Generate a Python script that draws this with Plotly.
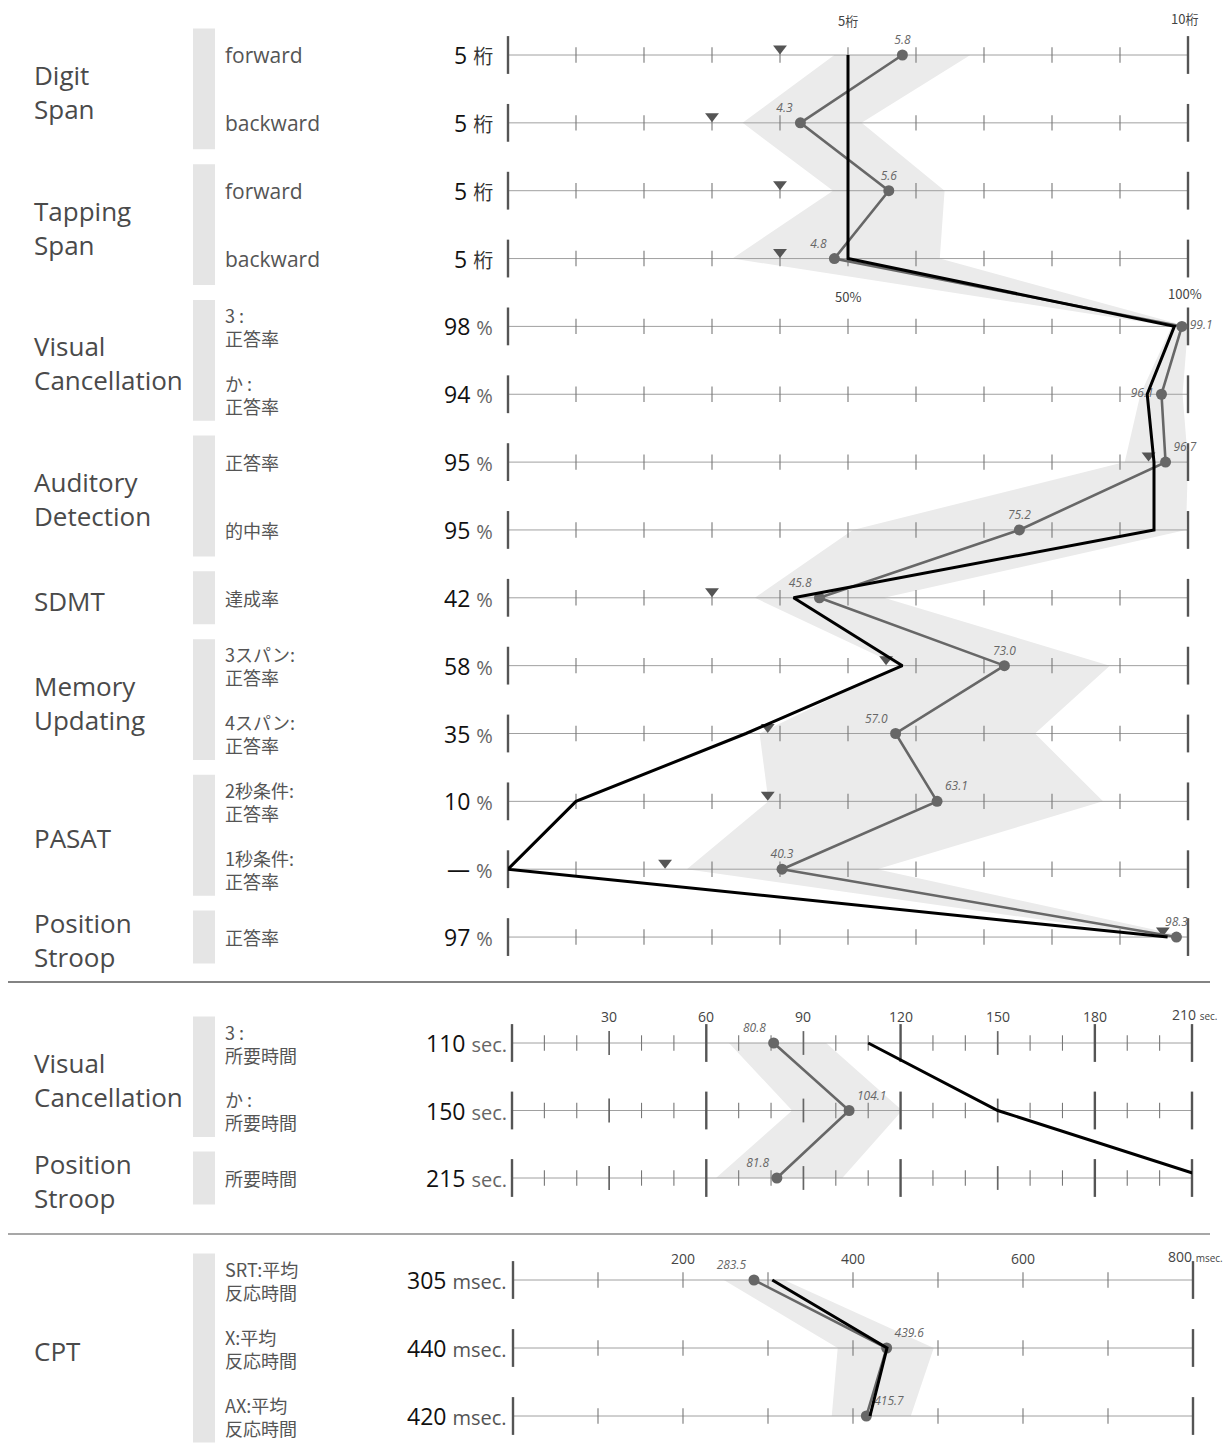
import plotly.graph_objects as go

W, H = 1232, 1454
OFF = 8                      # the page body offsets the figure by 8 px
FW, FH = W - OFF, H - OFF    # figure size


def px(x):
    return (x - OFF) / FW


def py(y):
    return 1 - (y - OFF) / FH


# ---------------- data ----------------
# top panel (spans in digits, others in %)
top_groups = ["Digit\nSpan", "Tapping\nSpan", "Visual\nCancellation", "Auditory\nDetection",
              "SDMT", "Memory\nUpdating", "PASAT", "Position\nStroop"]
top_group_rows = [[0, 1], [2, 3], [4, 5], [6, 7], [8], [9, 10], [11, 12], [13]]
top_items = ["forward", "backward", "forward", "backward",
             "3 :\n正答率", "か :\n正答率", "正答率", "的中率", "達成率",
             "3スパン:\n正答率", "4スパン:\n正答率", "2秒条件:\n正答率", "1秒条件:\n正答率", "正答率"]
top_units = ["桁", "桁", "桁", "桁", "%", "%", "%", "%", "%", "%", "%", "%", "%", "%"]
top_scale = [10, 10, 10, 10, 1, 1, 1, 1, 1, 1, 1, 1, 1, 1]
top_patient = [5, 5, 5, 5, 98, 94, 95, 95, 42, 58, 35, 10, 0, 97]
top_patient_text = ["5", "5", "5", "5", "98", "94", "95", "95", "42", "58", "35", "10", "—", "97"]
top_mean = [5.8, 4.3, 5.6, 4.8, 99.1, 96.1, 96.7, 75.2, 45.8, 73.0, 57.0, 63.1, 40.3, 98.3]
top_low = [4.8, 3.45, 4.78, 3.3, 97.6, 93.0, 90.7, 50.7, 36.3, 57.5, 37.0, 38.3, 26.3, 96.3]
top_high = [6.8, 5.2, 6.42, 6.35, 100, 99.2, 100, 99.7, 55.3, 88.5, 77.5, 87.5, 54.3, 100]
top_cutoff = [4, 3, 4, 4, None, None, 94.2, None, 30, 55.6, 38.2, 38.2, 23.1, 96.3]
top_ticks = list(range(0, 101, 10))
top_major = [0, 100]
top_medium = []

# middle panel (seconds)
mid_groups = ["Visual\nCancellation", "Position\nStroop"]
mid_group_rows = [[0, 1], [2]]
mid_items = ["3 :\n所要時間", "か :\n所要時間", "所要時間"]
mid_units = ["sec.", "sec.", "sec."]
mid_scale = [1, 1, 1]
mid_patient = [110, 150, 215]
mid_patient_text = ["110", "150", "215"]
mid_mean = [80.8, 104.1, 81.8]
mid_low = [67, 86.5, 63]
mid_high = [97, 120.5, 102]
mid_cutoff = [None, None, None]
mid_ticks = list(range(0, 211, 10))
mid_major = [0, 60, 120, 180, 210]
mid_medium = [30, 90, 150]

# bottom panel (msec)
cpt_groups = ["CPT"]
cpt_group_rows = [[0, 1, 2]]
cpt_items = ["SRT:平均\n反応時間", "X:平均\n反応時間", "AX:平均\n反応時間"]
cpt_units = ["msec.", "msec.", "msec."]
cpt_scale = [1, 1, 1]
cpt_patient = [305, 440, 420]
cpt_patient_text = ["305", "440", "420"]
cpt_mean = [283.5, 439.6, 415.7]
cpt_low = [248, 382, 375]
cpt_high = [319, 495, 468]
cpt_cutoff = [None, None, None]
cpt_ticks = list(range(0, 801, 100))
cpt_major = [0, 800]
cpt_medium = []

# axis captions: (text, value, pixel-y)
top_axis_labels = [("5桁", 50, 20), ("10桁", 99.5, 18), ("50%", 50, 296), ("100%", 99.5, 293)]
mid_axis_labels = [("30", 30, 1016), ("60", 60, 1016), ("90", 90, 1016), ("120", 120, 1016),
                   ("150", 150, 1016), ("180", 180, 1016)]
mid_end_label = ("210", "sec.", 210, 1014)
cpt_axis_labels = [("200", 200, 1258), ("400", 400, 1258), ("600", 600, 1258)]
cpt_end_label = ("800", "msec.", 800, 1256)

top_label_pos = ['top center', 'top left', 'top center', 'top left', 'middle right', 'middle left',
                 'top right', 'top center', 'top left', 'top center', 'top left', 'top right',
                 'top center', 'top center']
mid_label_pos = ['top left', 'top right', 'top left']
cpt_label_pos = ['top left', 'top right', 'top right']

# ---------------- layout geometry ----------------
panels = [
    dict(row0=55, step=67.85, ptop=8, pbot=975, x0=508, x1=1188, rng=(0, 100),
         groups=top_groups, grows=top_group_rows, items=top_items, units=top_units,
         scale=top_scale, patient=top_patient, ptext=top_patient_text, mean=top_mean,
         low=top_low, high=top_high, cutoff=top_cutoff, ticks=top_ticks, major=top_major,
         medium=top_medium, lpos=top_label_pos, score_x=495),
    dict(row0=1043, step=67.5, ptop=990, pbot=1226, x0=512, x1=1192, rng=(0, 210),
         groups=mid_groups, grows=mid_group_rows, items=mid_items, units=mid_units,
         scale=mid_scale, patient=mid_patient, ptext=mid_patient_text, mean=mid_mean,
         low=mid_low, high=mid_high, cutoff=mid_cutoff, ticks=mid_ticks, major=mid_major,
         medium=mid_medium, lpos=mid_label_pos, score_x=509),
    dict(row0=1280, step=68, ptop=1240, pbot=1454, x0=513, x1=1193, rng=(0, 800),
         groups=cpt_groups, grows=cpt_group_rows, items=cpt_items, units=cpt_units,
         scale=cpt_scale, patient=cpt_patient, ptext=cpt_patient_text, mean=cpt_mean,
         low=cpt_low, high=cpt_high, cutoff=cpt_cutoff, ticks=cpt_ticks, major=cpt_major,
         medium=cpt_medium, lpos=cpt_label_pos, score_x=509),
]

FONT = "Open Sans, Noto Sans CJK JP, sans-serif"
JFONT = "Noto Sans CJK JP, Open Sans, sans-serif"
unit_color = {"桁": "#333", "%": "#666", "sec.": "#666", "msec.": "#555"}

fig = go.Figure()
annotations = []
shapes = []
layout_axes = {}

for k, P in enumerate(panels):
    sfx = "" if k == 0 else str(k + 1)
    xa, ya = "x" + sfx, "y" + sfx
    n = len(P["mean"])
    rows = list(range(n))
    step = P["step"]
    r_top = (P["ptop"] - P["row0"]) / step
    r_bot = (P["pbot"] - P["row0"]) / step
    layout_axes["xaxis" + sfx] = dict(domain=[px(P["x0"]), px(P["x1"])], range=list(P["rng"]),
                                      visible=False, anchor=ya, fixedrange=True)
    layout_axes["yaxis" + sfx] = dict(domain=[max(0, py(P["pbot"])), min(1, py(P["ptop"]))],
                                      range=[r_bot, r_top], visible=False, anchor=xa,
                                      fixedrange=True)
    sc = P["scale"]
    # band
    bx = [l * s for l, s in zip(P["low"], sc)] + [h * s for h, s in zip(P["high"], sc)][::-1]
    by = rows + rows[::-1]
    fig.add_trace(go.Scatter(x=bx, y=by, xaxis=xa, yaxis=ya, mode="lines", fill="toself",
                             fillcolor="#ebebeb", line=dict(width=0), hoverinfo="skip"))
    # row axis lines
    lx, ly = [], []
    for r in rows:
        lx += [P["rng"][0], P["rng"][1], None]
        ly += [r, r, None]
    fig.add_trace(go.Scatter(x=lx, y=ly, xaxis=xa, yaxis=ya, mode="lines",
                             line=dict(color="#a0a0a0", width=1), hoverinfo="skip"))
    # ticks
    for kind, size, width, col in [("minor", 11, 1.1, "#777"), ("medium", 17, 1.7, "#666"),
                                   ("major", 27, 2.4, "#555")]:
        tx, ty = [], []
        for r in rows:
            for t in P["ticks"]:
                if t in P["major"]:
                    kk = "major"
                elif t in P["medium"]:
                    kk = "medium"
                else:
                    kk = "minor"
                if kk == kind:
                    tx.append(t)
                    ty.append(r)
        if tx:
            fig.add_trace(go.Scatter(x=tx, y=ty, xaxis=xa, yaxis=ya, mode="markers",
                                     marker=dict(symbol="line-ns", size=size,
                                                 line=dict(width=width, color=col)),
                                     cliponaxis=False, hoverinfo="skip"))
    # cutoff triangles
    cx, cy = [], []
    for r, c, s in zip(rows, P["cutoff"], sc):
        if c is not None:
            cx.append(c * s)
            cy.append(r - 6.5 / step)
    if cx:
        fig.add_trace(go.Scatter(x=cx, y=cy, xaxis=xa, yaxis=ya, mode="markers",
                                 marker=dict(symbol="triangle-down", size=12, color="#555"),
                                 cliponaxis=False, hoverinfo="skip"))
    # normal mean line
    fig.add_trace(go.Scatter(x=[m * s for m, s in zip(P["mean"], sc)], y=rows, xaxis=xa, yaxis=ya,
                             mode="lines+markers+text",
                             line=dict(color="#676767", width=2.6),
                             marker=dict(size=11, color="#676767"),
                             text=[f"{m:.1f}" for m in P["mean"]], textposition=P["lpos"],
                             textfont=dict(family=FONT, size=12, color="#666", style="italic"),
                             cliponaxis=False, hoverinfo="skip"))
    # patient line
    fig.add_trace(go.Scatter(x=[p * s for p, s in zip(P["patient"], sc)], y=rows, xaxis=xa,
                             yaxis=ya, mode="lines", line=dict(color="#000", width=3),
                             hoverinfo="skip"))

    # group bars and labels
    for g, grs in zip(P["groups"], P["grows"]):
        y0 = grs[0] - 26.5 / step
        y1 = grs[-1] + 26.5 / step
        shapes.append(dict(type="rect", xref="paper", yref=ya, x0=px(193), x1=px(215),
                           y0=y0, y1=y1, fillcolor="#e5e5e5", line=dict(width=0), layer="below"))
        yc = sum(grs) / len(grs) + 3 / step
        annotations.append(dict(xref="paper", yref=ya, x=px(32), y=yc, text=g.replace("\n", "<br>"),
                                xanchor="left", yanchor="middle", align="left", showarrow=False,
                                font=dict(family=FONT, size=26, color="#4a4a4a")))
    # item labels
    for r, it in zip(rows, P["items"]):
        ascii_only = all(ord(ch) < 128 for ch in it)
        annotations.append(dict(xref="paper", yref=ya, x=px(223), y=r, text=it.replace("\n", "<br>"),
                                xanchor="left", yanchor="middle", align="left", showarrow=False,
                                font=dict(family=FONT if ascii_only else JFONT,
                                          size=21 if ascii_only else 18, color="#555")))
    # score labels
    for r, t, u in zip(rows, P["ptext"], P["units"]):
        txt = (f"{t} <span style='color:{unit_color[u]};font-size:20px'>{u}</span>")
        annotations.append(dict(xref="paper", yref=ya, x=px(P["score_x"]), y=r, text=txt,
                                xanchor="right", yanchor="middle", showarrow=False,
                                font=dict(family=FONT, size=23, color="#111")))

# axis captions
for txt, v, yy in top_axis_labels:
    annotations.append(dict(xref="x", yref="y", x=v, y=(yy - panels[0]["row0"]) / panels[0]["step"],
                            text=txt, showarrow=False, xanchor="center", yanchor="middle",
                            font=dict(family=JFONT, size=13, color="#444")))
for txt, v, yy in mid_axis_labels:
    annotations.append(dict(xref="x2", yref="y2", x=v, y=(yy - panels[1]["row0"]) / panels[1]["step"],
                            text=txt, showarrow=False, xanchor="center", yanchor="middle",
                            font=dict(family=FONT, size=14, color="#444")))
for txt, v, yy in cpt_axis_labels:
    annotations.append(dict(xref="x3", yref="y3", x=v, y=(yy - panels[2]["row0"]) / panels[2]["step"],
                            text=txt, showarrow=False, xanchor="center", yanchor="middle",
                            font=dict(family=FONT, size=14, color="#444")))
for (num, unit, v, yy), ax, P, shift in [(mid_end_label, "2", panels[1], -22),
                                         (cpt_end_label, "3", panels[2], -27)]:
    annotations.append(dict(xref="x" + ax, yref="y" + ax, x=v, y=(yy - P["row0"]) / P["step"],
                            text=f"{num} <span style='font-size:10px'>{unit}</span>",
                            showarrow=False, xanchor="left", yanchor="middle", xshift=shift,
                            font=dict(family=FONT, size=14, color="#444")))

# separators
shapes.append(dict(type="line", xref="paper", yref="paper", x0=px(8), x1=px(1210),
                   y0=py(982), y1=py(982), line=dict(color="#5a5a5a", width=1.5)))
shapes.append(dict(type="line", xref="paper", yref="paper", x0=px(8), x1=px(1210),
                   y0=py(1234), y1=py(1234), line=dict(color="#8a8a8a", width=1.3)))

fig.update_layout(width=FW, height=FH, margin=dict(l=0, r=0, t=0, b=0),
                  paper_bgcolor="white", plot_bgcolor="rgba(0,0,0,0)", showlegend=False,
                  font=dict(family=FONT), annotations=annotations, shapes=shapes,
                  **layout_axes)

fig.write_html("out.html")
